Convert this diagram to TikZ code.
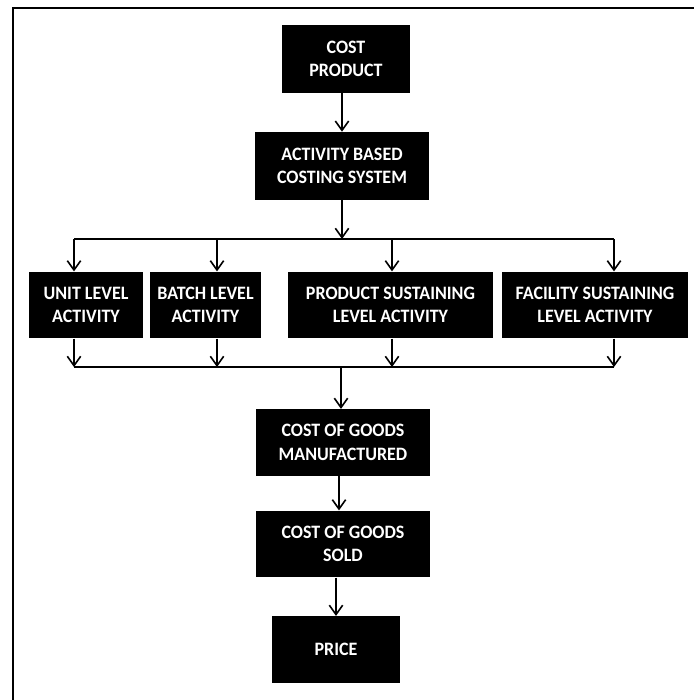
\documentclass[tikz,border=0pt]{standalone}
\usepackage{fontspec}
\setmainfont{Carlito}[FakeStretch=0.95]
\usetikzlibrary{arrows.meta}

\begin{document}
\begin{tikzpicture}[x=0.75pt,y=-0.75pt,>={Straight Barb[length=7pt,width=10pt]},
        box/.style={fill=black,text=white,font=\bfseries\fontsize{14.2}{17.5}\selectfont,align=center,inner sep=0pt,minimum height=50pt},
        arr/.style={->,line width=1.2pt}]
        \useasboundingbox (0,0) rectangle (694,700);
        \draw[line width=1.5pt] (13,700) -- (13,8) -- (694,8);
        % boxes
        \node[box,minimum width=96pt,minimum height=51pt] (cost) at (346,59) {COST\\PRODUCT};
        \node[box,minimum width=130.5pt,minimum height=51pt] (abc) at (342,166) {ACTIVITY BASED\\COSTING SYSTEM};
        \node[box,minimum width=85.5pt] (unit) at (86,305) {UNIT LEVEL\\ACTIVITY};
        \node[box,minimum width=83.25pt] (batch) at (205.5,305) {BATCH LEVEL\\ACTIVITY};
        \node[box,minimum width=153.75pt] (prod) at (390.5,305) {PRODUCT SUSTAINING\\LEVEL ACTIVITY};
        \node[box,minimum width=139.5pt] (fac) at (595,305) {FACILITY SUSTAINING\\LEVEL ACTIVITY};
        \node[box,minimum width=130.5pt] (cogm) at (343,442.5) {COST OF GOODS\\MANUFACTURED};
        \node[box,minimum width=130.5pt] (cogs) at (343,544) {COST OF GOODS\\SOLD};
        \node[box,minimum width=96pt] (price) at (336,649.5) {PRICE};
        % connectors
        \draw[arr] (cost.south -| abc.north) -- (abc.north);
        \coordinate (split) at (342,239);
        \draw[arr] (abc.south) -- (split);
        \foreach \n/\x in {unit/74,batch/217,prod/392,fac/614}{
            \coordinate (top-\n) at (\x,239);
            \coordinate (bot-\n) at (\x,367);
            \draw[arr] (top-\n) -- (top-\n |- \n.north);
            \draw[arr] (bot-\n |- \n.south) -- (bot-\n);
        }
        \draw[line width=1.2pt] (top-unit) -- (top-fac);
        \draw[line width=1.2pt] (bot-unit) -- (bot-fac);
        \coordinate (join) at (341,367);
        \draw[arr] (join) -- (join |- cogm.north);
        \draw[arr] (cogm) ++(-4,0) coordinate (c1) (c1 |- cogm.south) -- (c1 |- cogs.north);
        \draw[arr] (cogs.south -| price.north) -- (price.north);
    \end{tikzpicture}
\end{document}
